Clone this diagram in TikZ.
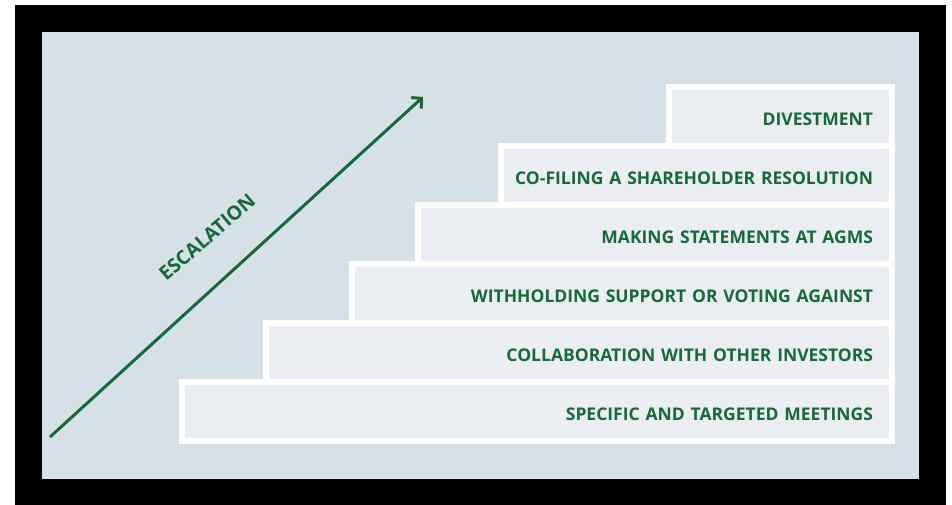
\documentclass[tikz,border=0pt]{standalone}
\usepackage{fontspec}
\setmainfont{Open Sans}
\usetikzlibrary{arrows.meta}
\definecolor{escgreen}{HTML}{17693A}
\definecolor{panelblue}{HTML}{D5E0E7}
\definecolor{stepfill}{HTML}{EAEEF3}
\tikzset{
  stepbox/.style={draw=white, line width=6pt, fill=stepfill, outer sep=0pt,
    minimum height=59pt, anchor=north east, align=right, inner xsep=19pt,
    text height=18pt, text depth=0pt, text=escgreen,
    font=\bfseries\fontsize{17.5}{19}\selectfont},
  escline/.style={draw=escgreen, line width=3pt,
    -{Straight Barb[length=7pt,width=15pt]}},
}
\begin{document}
\begin{tikzpicture}[x=1pt,y=-1pt]
\useasboundingbox (0,0) rectangle (952,505);
% frame and panel
\fill[black] (15,5) rectangle (946,505);
\fill[panelblue] (42,32) rectangle (919,479);
% steps, lowest first
\foreach \lft/\tp/\txt [count=\i] in {
  179/379/SPECIFIC AND TARGETED MEETINGS,
  263/320/COLLABORATION WITH OTHER INVESTORS,
  349/261/WITHHOLDING SUPPORT OR VOTING AGAINST,
  415/202/MAKING STATEMENTS AT AGMS,
  498/143/CO-FILING A SHAREHOLDER RESOLUTION,
  666/84/DIVESTMENT} {
  \pgfmathsetmacro\w{889-\lft}
  \pgfmathsetmacro\tw{\w-38}
  \node[stepbox, minimum width=\w pt, text width=\tw pt] (step\i) at (892,\tp+3)
    {\hbox to \linewidth{\hss\txt}};
}
% escalation arrow
\coordinate (tail) at (50,437);
\coordinate (head) at (423,97);
\draw[escline] (tail) -- (head);
\node[rotate=41, text=escgreen, font=\bfseries\fontsize{19.5}{21}\selectfont] (esc) at (207,237) {ESCALATION};
\end{tikzpicture}
\end{document}
